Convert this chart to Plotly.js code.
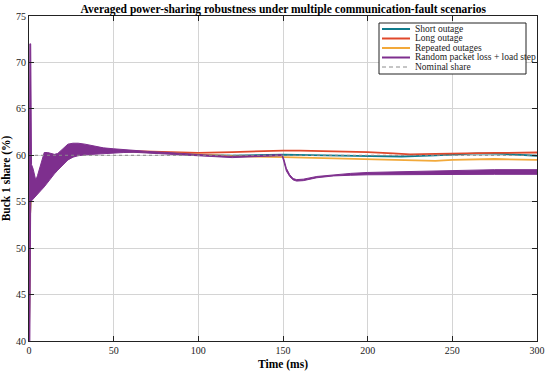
<!DOCTYPE html>
<html>
<head>
<meta charset="utf-8">
<script src="https://cdn.plot.ly/plotly-3.0.1.min.js"></script>
<style>html,body{margin:0;padding:0;background:#fff;}#chart{width:550px;height:372px;}</style>
</head>
<body>
<div id="chart"></div>
<script>
// ---------- data ----------
const seriesNames = ["Short outage", "Long outage", "Repeated outages", "Random packet loss + load step", "Nominal share"];

// common start-up transient shared by the three outage scenarios (hidden under the purple band)
const earlyT = [0, 0.4, 1, 3, 6, 10, 15, 20, 25, 30, 40, 50];
const earlyY = [40, 52, 56, 56.5, 57.3, 58.5, 59.1, 59.8, 60.3, 60.6, 60.55, 60.5];

const shortT = [62, 80, 100, 120, 135, 150, 175, 200, 220, 240, 250, 265, 280, 300];
const shortY = [60.4, 60.25, 60.05, 59.95, 60.0, 60.07, 60.0, 59.9, 59.85, 60.0, 60.1, 60.2, 60.15, 59.95];

const longT = [62, 80, 100, 120, 135, 150, 160, 180, 200, 215, 225, 240, 250, 275, 300];
const longY = [60.4, 60.3, 60.25, 60.35, 60.45, 60.5, 60.5, 60.45, 60.35, 60.2, 60.1, 60.15, 60.2, 60.25, 60.3];

const repeatedT = [62, 80, 100, 120, 150, 175, 200, 225, 240, 250, 275, 300];
const repeatedY = [60.4, 60.25, 60.05, 59.9, 59.8, 59.7, 59.6, 59.45, 59.4, 59.5, 59.6, 59.5];

// random packet loss: oscillating signal, given as upper / lower envelope
const randomT = [0, 0.5, 1, 1.5, 2.5, 4, 5, 7, 9, 11, 13, 15, 17, 20, 23, 26, 29, 33, 38, 44,
                 50, 56, 62, 70, 80, 90, 100, 110, 120, 125, 130, 140, 149.5, 150.5, 152, 154, 156, 158, 162, 170,
                 180, 190, 200, 220, 250, 275, 300];
const randomUpper = [40, 72, 72, 59.0, 58.5, 57.3, 57.8, 59.0, 60.3, 60.3, 60.2, 60.1, 60.2, 60.7, 61.2, 61.3, 61.3, 61.2, 61.0, 60.8,
                     60.7, 60.6, 60.5, 60.42, 60.32, 60.18, 60.08, 59.98, 59.88, 59.92, 59.97, 60.02, 60.07, 59.6, 58.6, 57.9, 57.5, 57.38, 57.43, 57.72,
                     57.92, 58.05, 58.15, 58.25, 58.4, 58.45, 58.45];
const randomLower = [40, 40, 55.0, 55.2, 55.3, 55.6, 55.8, 56.2, 56.6, 57.0, 57.5, 58.0, 58.4, 59.0, 59.5, 59.8, 59.95, 60.05, 60.15, 60.2,
                     60.25, 60.3, 60.32, 60.3, 60.2, 60.05, 59.95, 59.85, 59.75, 59.8, 59.85, 59.9, 59.95, 59.3, 58.3, 57.7, 57.35, 57.22, 57.27, 57.58,
                     57.78, 57.85, 57.9, 57.9, 57.95, 57.95, 57.95];

const nominalT = [0, 300];
const nominalY = [60, 60];

const xTicks = [0, 50, 100, 150, 200, 250, 300];
const yTicks = [40, 45, 50, 55, 60, 65, 70, 75];

// ---------- styles ----------
const colors = ["#0f7b8c", "#e0482b", "#f2a93a", "#7e2f8e", "#8c8c8c"];
const serif = "Liberation Serif";

const traces = [
  {x: earlyT.concat(shortT), y: earlyY.concat(shortY), mode: "lines", line: {color: colors[0], width: 1.8}, name: seriesNames[0]},
  {x: earlyT.concat(longT), y: earlyY.concat(longY), mode: "lines", line: {color: colors[1], width: 1.8}, name: seriesNames[1]},
  {x: earlyT.concat(repeatedT), y: earlyY.concat(repeatedY), mode: "lines", line: {color: colors[2], width: 1.8}, name: seriesNames[2]},
  {x: randomT.concat(randomT.slice().reverse()), y: randomUpper.concat(randomLower.slice().reverse()),
   mode: "lines", fill: "toself", fillcolor: colors[3], line: {color: colors[3], width: 1}, name: seriesNames[3]},
  {x: nominalT, y: nominalY, mode: "lines", line: {color: colors[4], width: 1, dash: "3px,3px"}, name: seriesNames[4]}
];

// ---------- manual legend (pixel layout of the reference) ----------
const L = 29, R = 537, T = 16, B = 341;
const px = v => (v - L) / (R - L);
const py = v => (B - v) / (B - T);
const shapes = [{type: "rect", xref: "paper", yref: "paper", x0: px(379), x1: px(526), y0: py(23), y1: py(74),
                 line: {color: "#222", width: 1}, fillcolor: "#fff", layer: "above"}];
const annotations = [];
const rows = [29, 38.5, 48, 57.5, 67];
seriesNames.forEach((n, i) => {
  shapes.push({type: "line", xref: "paper", yref: "paper", x0: px(382), x1: px(410), y0: py(rows[i]), y1: py(rows[i]),
               line: {color: colors[i], width: i === 4 ? 1 : 2, dash: i === 4 ? "4px,3px" : "solid"}, layer: "above"});
  annotations.push({xref: "paper", yref: "paper", x: px(413), y: py(rows[i]), xanchor: "left", yanchor: "middle",
                    text: n, showarrow: false, font: {family: serif, size: 9.5, color: "#222"}});
});

const layout = {
  width: 550, height: 372,
  margin: {l: L, r: 550 - R, t: T, b: 372 - B},
  paper_bgcolor: "#fff", plot_bgcolor: "#fff",
  showlegend: false,
  title: {text: "Averaged power-sharing robustness under multiple communication-fault scenarios",
          font: {family: serif, size: 11.5, weight: "bold", color: "#000"},
          x: 0.515, xanchor: "center", y: 1 - 9 / 372, yanchor: "middle"},
  xaxis: {range: [0, 300], tickvals: xTicks, ticks: "inside", ticklen: 5, tickcolor: "#222",
          showline: true, linecolor: "#222", linewidth: 1, mirror: "ticks",
          showgrid: true, gridcolor: "#d4d4d4", gridwidth: 1, zeroline: false,
          tickfont: {family: serif, size: 10, color: "#222"},
          title: {text: "Time (ms)", font: {family: serif, size: 11.5, weight: "bold", color: "#000"}, standoff: 4},
          automargin: false},
  yaxis: {range: [40, 75], tickvals: yTicks, ticks: "inside", ticklen: 5, tickcolor: "#222",
          showline: true, linecolor: "#222", linewidth: 1, mirror: "ticks",
          showgrid: true, gridcolor: "#d4d4d4", gridwidth: 1, zeroline: false,
          tickfont: {family: serif, size: 10, color: "#222"},
          title: {text: "Buck 1 share (%)", font: {family: serif, size: 11.5, weight: "bold", color: "#000"}, standoff: 2},
          automargin: false},
  shapes: shapes,
  annotations: annotations
};

Plotly.newPlot("chart", traces, layout, {displayModeBar: false, staticPlot: true});
</script>
</body>
</html>
